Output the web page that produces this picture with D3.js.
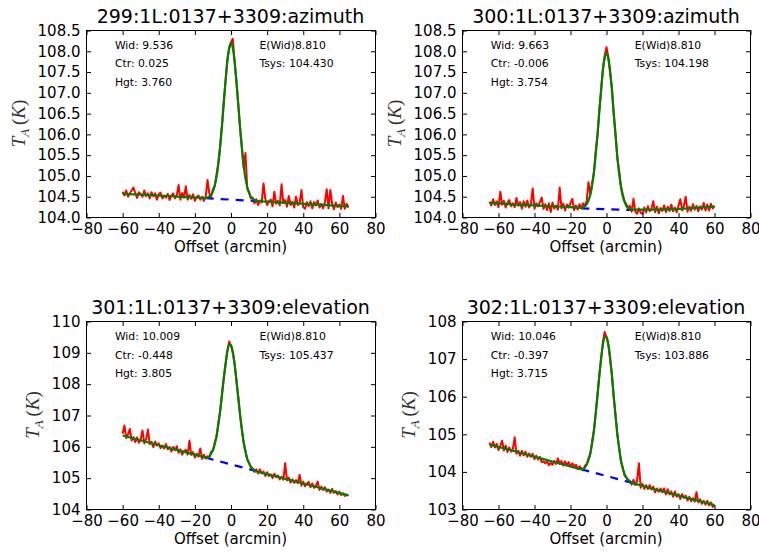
<!DOCTYPE html>
<html>
<head>
<meta charset="utf-8">
<script src="https://cdn.jsdelivr.net/npm/d3@7"></script>
<style>
body { margin: 0; background: #fff; }
svg { display: block; }
</style>
</head>
<body>
<div id="chart"></div>
<script>
// ---- data ----
var titles = ["299:1L:0137+3309:azimuth", "300:1L:0137+3309:azimuth",
              "301:1L:0137+3309:elevation", "302:1L:0137+3309:elevation"];
var wid  = ["9.536", "9.663", "10.009", "10.046"];
var ctr  = ["0.025", "-0.006", "-0.448", "-0.397"];
var hgt  = ["3.760", "3.754", "3.805", "3.715"];
var ewid = ["8.810", "8.810", "8.810", "8.810"];
var tsys = ["104.430", "104.198", "105.437", "103.886"];

var xTicks = [-80, -60, -40, -20, 0, 20, 40, 60, 80];
var yTicksAz = [104.0, 104.5, 105.0, 105.5, 106.0, 106.5, 107.0, 107.5, 108.0, 108.5];
var yTicks301 = [104, 105, 106, 107, 108, 109, 110];
var yTicks302 = [103, 104, 105, 106, 107, 108];

// first offset (arcmin) of each scan, samples are 1 arcmin apart
var startOffsets = [-60, -65, -60, -65];

var red299 = [
  104.62,104.53,104.65,104.50,104.59,104.65,104.72,104.59,104.47,104.61,
  104.56,104.50,104.65,104.51,104.58,104.46,104.61,104.51,104.58,104.43,
  104.56,104.60,104.46,104.53,104.48,104.57,104.42,104.53,104.58,104.46,
  104.54,104.78,104.43,104.59,104.48,104.75,104.43,104.54,104.45,104.56,
  104.40,104.50,104.53,104.43,104.50,104.40,104.50,104.90,104.58,104.50,
  104.68,104.76,105.04,105.32,105.74,106.22,106.80,107.28,107.80,108.06,
  108.22,108.30,107.74,107.26,106.74,106.15,105.70,105.20,105.55,104.70,
  104.62,104.46,104.48,104.34,104.44,104.30,104.41,104.36,104.82,104.45,
  104.30,104.39,104.43,104.27,104.62,104.33,104.40,104.29,104.80,104.34,
  104.42,104.26,104.52,104.30,104.38,104.24,104.50,104.30,104.35,104.66,
  104.25,104.21,104.37,104.27,104.39,104.22,104.37,104.29,104.41,104.24,
  104.33,104.22,104.37,104.68,104.22,104.66,104.33,104.20,104.36,104.25,
  104.31,104.21,104.52,104.21,104.33,104.24];

var red300 = [
  104.38,104.29,104.44,104.30,104.39,104.25,104.62,104.31,104.40,104.24,
  104.36,104.42,104.27,104.34,104.25,104.47,104.28,104.37,104.21,104.39,
  104.26,104.41,104.24,104.33,104.70,104.21,104.34,104.27,104.37,104.48,
  104.21,104.32,104.18,104.34,104.13,104.36,104.22,104.29,104.19,104.72,
  104.22,104.33,104.17,104.31,104.24,104.35,104.45,104.18,104.29,104.19,
  104.32,104.22,104.34,104.28,104.40,104.85,104.56,104.82,105.08,105.60,
  105.97,106.58,107.04,107.58,107.90,108.10,107.86,107.48,107.12,106.48,
  106.04,105.42,105.14,104.76,104.57,104.40,104.32,104.24,104.28,104.14,
  104.45,104.14,104.09,104.22,104.11,104.09,104.24,104.12,104.27,104.15,
  104.21,104.39,104.13,104.26,104.10,104.23,104.16,104.29,104.13,104.26,
  104.16,104.31,104.15,104.24,104.13,104.28,104.44,104.17,104.28,104.50,
  104.14,104.26,104.16,104.32,104.19,104.28,104.15,104.27,104.19,104.35,
  104.17,104.31,104.17,104.33,104.22,104.28];

var red301 = [
  106.42,106.68,106.28,106.40,106.57,106.20,106.31,106.15,106.30,106.13,
  106.23,106.52,106.11,106.24,106.55,106.09,106.16,105.99,106.17,106.04,
  106.11,105.96,106.04,105.95,106.09,105.92,106.00,105.85,106.00,105.89,
  106.02,105.81,105.92,105.75,105.87,105.90,105.75,106.20,105.74,105.83,
  105.66,105.78,105.69,105.95,105.62,105.75,105.63,105.70,105.66,105.84,
  105.88,106.14,106.32,106.78,107.14,107.68,108.22,108.62,109.08,109.36,
  109.22,109.00,108.66,108.10,107.60,107.02,106.58,106.12,105.88,105.58,
  105.50,105.34,105.32,105.20,105.28,105.15,105.28,105.15,105.21,105.07,
  105.19,105.07,105.12,105.00,105.14,105.03,105.09,104.96,105.04,104.95,
  105.48,104.93,105.02,104.86,104.96,104.85,104.94,104.84,105.11,104.76,
  104.89,104.74,104.83,104.88,104.71,104.83,104.69,104.76,104.89,104.62,
  104.73,104.62,104.71,104.57,104.64,104.53,104.66,104.53,104.59,104.48,
  104.57,104.46,104.52,104.43,104.48,104.44];

var red302 = [
  104.78,104.66,104.80,104.65,104.75,104.58,104.69,104.83,104.57,104.70,
  104.53,104.65,104.54,104.61,104.92,104.48,104.56,104.43,104.56,104.44,
  104.54,104.40,104.49,104.40,104.48,104.34,104.43,104.33,104.40,104.26,
  104.28,104.23,104.28,104.18,104.24,104.19,104.29,104.21,104.36,104.21,
  104.29,104.17,104.28,104.18,104.26,104.14,104.23,104.14,104.19,104.08,
  104.15,104.10,104.04,104.16,104.20,104.36,104.48,104.82,105.10,105.56,
  106.06,106.58,107.00,107.46,107.72,107.58,107.38,107.00,106.60,105.98,
  105.52,105.00,104.66,104.28,104.12,103.90,103.86,103.74,103.76,103.66,
  103.79,103.65,103.77,104.23,103.58,103.68,103.55,103.65,103.54,103.65,
  103.53,103.61,103.46,103.56,103.47,103.56,103.46,103.56,103.40,103.54,
  103.40,103.48,103.34,103.48,103.34,103.41,103.28,103.41,103.31,103.37,
  103.24,103.34,103.22,103.30,103.21,103.46,103.19,103.27,103.15,103.23,
  103.13,103.23,103.11,103.19,103.07,103.11];

// fitted curves (green), [offset, T]
var fit299 = [[-60,104.57],[-40,104.53],[-20,104.48],[-14,104.47],[-13,104.48],[-12,104.51],[-11,104.55],
  [-10,104.63],[-9,104.77],[-8,104.98],[-7,105.29],[-6,105.70],[-5,106.20],[-4,106.75],[-3,107.30],
  [-2,107.77],[-1,108.08],[0,108.19],[1,108.08],[2,107.76],[3,107.28],[4,106.73],[5,106.18],[6,105.68],
  [7,105.25],[8,104.94],[9,104.73],[10,104.59],[11,104.49],[12,104.45],[13,104.42],[14,104.40],
  [20,104.38],[40,104.33],[65,104.27]];
var fit300 = [[-65,104.35],[-50,104.31],[-35,104.28],[-20,104.25],[-14,104.23],[-13,104.24],[-12,104.27],
  [-11,104.32],[-10,104.41],[-9,104.55],[-8,104.77],[-7,105.08],[-6,105.50],[-5,105.99],[-4,106.54],
  [-3,107.07],[-2,107.54],[-1,107.84],[0,107.95],[1,107.84],[2,107.53],[3,107.07],[4,106.53],[5,105.98],
  [6,105.48],[7,105.06],[8,104.75],[9,104.52],[10,104.38],[11,104.28],[12,104.23],[13,104.20],[14,104.19],
  [20,104.19],[30,104.19],[45,104.22],[60,104.26]];
var fit301 = [[-60,106.36],[-40,106.05],[-20,105.75],[-15,105.67],[-14,105.65],[-13,105.64],[-12,105.70],
  [-11,105.78],[-10,105.90],[-9,106.08],[-8,106.35],[-7,106.71],[-6,107.15],[-5,107.66],[-4,108.18],
  [-3,108.66],[-2,109.05],[-1,109.26],[0,109.25],[1,109.03],[2,108.63],[3,108.13],[4,107.58],[5,107.04],
  [6,106.55],[7,106.15],[8,105.85],[9,105.62],[10,105.47],[11,105.37],[12,105.29],[13,105.24],[14,105.22],
  [20,105.13],[40,104.83],[65,104.45]];
var fit302 = [[-65,104.73],[-45,104.47],[-25,104.21],[-15,104.08],[-14,104.07],[-13,104.06],[-12,104.12],
  [-11,104.20],[-10,104.31],[-9,104.49],[-8,104.75],[-7,105.10],[-6,105.54],[-5,106.03],[-4,106.54],
  [-3,107.01],[-2,107.38],[-1,107.58],[0,107.59],[1,107.40],[2,107.04],[3,106.56],[4,106.02],[5,105.50],
  [6,105.02],[7,104.63],[8,104.32],[9,104.10],[10,103.95],[11,103.85],[12,103.79],[13,103.75],[14,103.72],
  [20,103.63],[40,103.37],[60,103.12]];

// baselines under the peak (blue dashed)
var base299 = [[-14,104.464],[14,104.396]];
var base300 = [[-14,104.22],[14,104.18]];
var base301 = [[-14,105.654],[14,105.226]];
var base302 = [[-14,104.07],[14,103.71]];

// ---- layout ----
var W = 759, H = 552;
var boxes = [
  {x: 86,  y: 30,  w: 289, h: 187},
  {x: 462, y: 30,  w: 288, h: 187},
  {x: 86,  y: 321, w: 289, h: 188},
  {x: 462, y: 321, w: 288, h: 188}
];
var reds = [red299, red300, red301, red302];
var fits = [fit299, fit300, fit301, fit302];
var bases = [base299, base300, base301, base302];
var yDomains = [[104, 108.5], [104, 108.5], [104, 110], [103, 108]];
var yTickSets = [yTicksAz, yTicksAz, yTicks301, yTicks302];
var yFormats = [d3.format(".1f"), d3.format(".1f"), d3.format("d"), d3.format("d")];

var svg = d3.select("#chart").append("svg")
    .attr("width", W)
    .attr("height", H);

svg.append("rect").attr("width", W).attr("height", H).attr("fill", "#fff");

boxes.forEach(function(b, i) {
  var x = d3.scaleLinear().domain([-80, 80]).range([b.x + 0.5, b.x + b.w + 0.5]);
  var y = d3.scaleLinear().domain(yDomains[i]).range([b.y + b.h + 0.5, b.y + 0.5]);
  var g = svg.append("g").attr("class", "panel");

  var line = d3.line()
      .x(function(d) { return x(d[0]); })
      .y(function(d) { return y(d[1]); });

  // data trace
  var pts = reds[i].map(function(v, k) { return [startOffsets[i] + k, v]; });
  g.append("path").datum(pts)
      .attr("d", line)
      .attr("fill", "none")
      .attr("stroke", "#ff0000")
      .attr("stroke-width", 2)
      .attr("stroke-linejoin", "round");

  // baseline
  g.append("path").datum(bases[i])
      .attr("d", line)
      .attr("fill", "none")
      .attr("stroke", "#0000ff")
      .attr("stroke-width", 2.2)
      .attr("stroke-dasharray", "8,7");

  // fit
  g.append("path").datum(fits[i])
      .attr("d", line.curve(d3.curveMonotoneX))
      .attr("fill", "none")
      .attr("stroke", "#008000")
      .attr("stroke-width", 2.2)
      .attr("stroke-linejoin", "round");

  // axes, ticks pointing in like matplotlib classic
  g.append("g")
      .attr("transform", "translate(0," + (b.y + b.h + 0.5) + ")")
      .call(d3.axisBottom(x).tickValues(xTicks).tickSizeInner(-4.5).tickSizeOuter(0).tickPadding(6));
  var left = g.append("g")
      .attr("transform", "translate(" + (b.x + 0.5) + ",0)")
      .call(d3.axisLeft(y).tickValues(yTickSets[i]).tickFormat(yFormats[i])
            .tickSizeInner(-4.5).tickSizeOuter(0).tickPadding(6));
  g.append("g")
      .attr("transform", "translate(0," + (b.y + 0.5) + ")")
      .call(d3.axisTop(x).tickValues(xTicks).tickFormat("").tickSizeInner(-4.5).tickSizeOuter(0));
  g.append("g")
      .attr("transform", "translate(" + (b.x + b.w + 0.5) + ",0)")
      .call(d3.axisRight(y).tickValues(yTickSets[i]).tickFormat("").tickSizeInner(-4.5).tickSizeOuter(0));

  g.selectAll(".domain").remove();
  g.selectAll(".tick line").attr("stroke", "#000").attr("stroke-width", 1);
  g.selectAll(".tick text")
      .attr("fill", "#000")
      .style("font-family", "'DejaVu Sans', sans-serif")
      .style("font-size", "15px");

  // frame
  g.append("rect")
      .attr("x", b.x + 0.5).attr("y", b.y + 0.5)
      .attr("width", b.w).attr("height", b.h)
      .attr("fill", "none")
      .attr("stroke", "#000")
      .attr("stroke-width", 1);

  // title
  g.append("text")
      .attr("x", b.x + b.w / 2)
      .attr("y", b.y - 7.5)
      .attr("text-anchor", "middle")
      .style("font-family", "'DejaVu Sans', sans-serif")
      .style("font-size", "19px")
      .text(titles[i]);

  // x label
  g.append("text")
      .attr("x", b.x + b.w / 2)
      .attr("y", b.y + b.h + 35)
      .attr("text-anchor", "middle")
      .style("font-family", "'DejaVu Sans', sans-serif")
      .style("font-size", "15px")
      .text("Offset (arcmin)");

  // y label  T_A (K)
  var tickW = d3.max(left.selectAll(".tick text").nodes(), function(n) { return n.getBBox().width; });
  var ly = g.append("text")
      .attr("transform", "translate(" + (b.x - tickW - 25) + "," + (b.y + b.h / 2) + ") rotate(-90)")
      .attr("text-anchor", "middle")
      .attr("dy", "0.35em")
      .attr("fill", "#333")
      .style("font-family", "'Liberation Serif', serif")
      .style("font-size", "19px");
  ly.append("tspan").style("font-style", "italic").text("T");
  ly.append("tspan").style("font-style", "italic").style("font-size", "13px").attr("dy", 4).text("A");
  ly.append("tspan").attr("dy", -4).text("\u2009(");
  ly.append("tspan").style("font-style", "italic").text("K");
  ly.append("tspan").text(")");

  // fit results
  var info = [
    [0.1, 0.1, "Wid: " + wid[i]],
    [0.1, 0.2, "Ctr: " + ctr[i]],
    [0.1, 0.3, "Hgt: " + hgt[i]],
    [0.6, 0.1, "E(Wid)" + ewid[i]],
    [0.6, 0.2, "Tsys: " + tsys[i]]
  ];
  g.selectAll(".info").data(info).enter().append("text")
      .attr("class", "info")
      .attr("x", function(d) { return b.x + d[0] * b.w; })
      .attr("y", function(d) { return b.y + d[1] * b.h; })
      .style("font-family", "'DejaVu Sans', sans-serif")
      .style("font-size", "10.8px")
      .text(function(d) { return d[2]; });
});
</script>
</body>
</html>
